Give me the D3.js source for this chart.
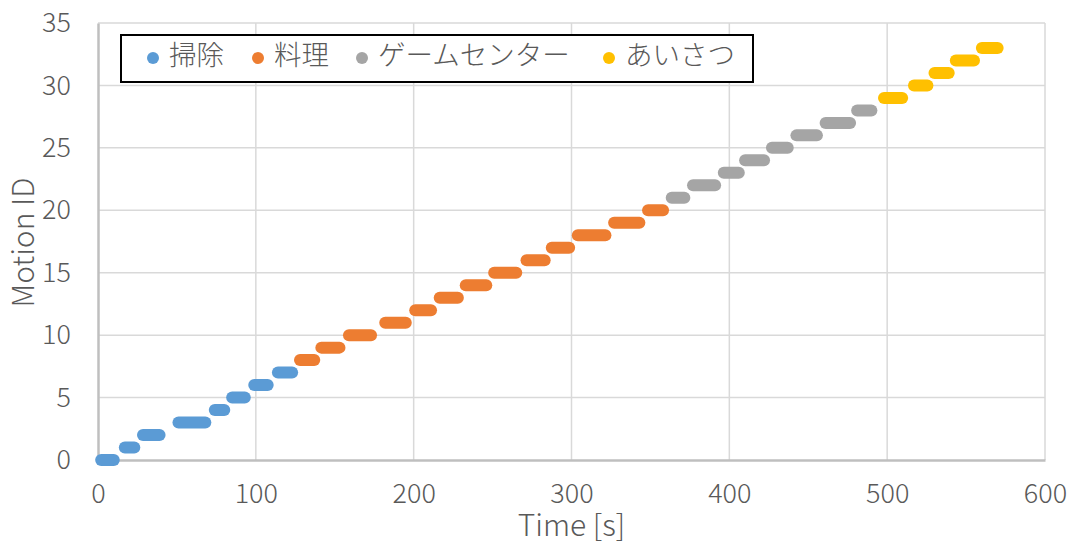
<!DOCTYPE html>
<html>
<head>
<meta charset="utf-8">
<script src="https://cdn.jsdelivr.net/npm/d3@7"></script>
<style>
  html, body { margin: 0; padding: 0; background: #fff; }
  svg { display: block; font-family: "Noto Sans CJK JP", "Noto Sans", sans-serif; }
</style>
</head>
<body>
<svg id="chart" width="1075" height="546"></svg>
<script>
// Series (activity categories) and their colours
const seriesNames = ["掃除", "料理", "ゲームセンター", "あいさつ"];
const seriesColors = ["#5B9BD5", "#ED7D31", "#A5A5A5", "#FFC000"];

// Motion IDs belonging to each series
const cleaningIds = [0, 1, 2, 3, 4, 5, 6, 7];
const cookingIds = [8, 9, 10, 11, 12, 13, 14, 15, 16, 17, 18, 19, 20];
const arcadeIds = [21, 22, 23, 24, 25, 26, 27, 28];
const greetingIds = [29, 30, 31, 32, 33];

// Start / end time [s] of each motion, in the same order as the IDs
const cleaningStart = [2, 17, 28.5, 51, 74, 85, 99, 114];
const cleaningEnd   = [10, 23, 39, 68, 80, 93, 107.5, 123];
const cookingStart  = [128, 141.5, 159, 182, 201, 216.5, 233, 251, 271.5, 287.5, 304, 327, 348.5];
const cookingEnd    = [137, 153, 173, 195, 211, 228, 246, 265, 283, 298.5, 321.5, 343, 358];
const arcadeStart   = [363.5, 377, 396.5, 410, 427, 442.5, 461, 481];
const arcadeEnd     = [371.5, 391, 406, 422, 437, 455.5, 476.5, 490];
const greetingStart = [498, 517, 530, 543.5, 560];
const greetingEnd   = [509.5, 525.5, 539, 555, 570];

// Axis ticks
const xTicks = [0, 100, 200, 300, 400, 500, 600];
const yTicks = [0, 5, 10, 15, 20, 25, 30, 35];

const seriesIds = [cleaningIds, cookingIds, arcadeIds, greetingIds];
const seriesStart = [cleaningStart, cookingStart, arcadeStart, greetingStart];
const seriesEnd = [cleaningEnd, cookingEnd, arcadeEnd, greetingEnd];

const segments = [];
seriesIds.forEach((ids, s) => {
  ids.forEach((id, i) => {
    segments.push({ series: s, id: id, t0: seriesStart[s][i], t1: seriesEnd[s][i] });
  });
});

const W = 1075, H = 546;
const margin = { left: 98, right: 30, top: 23, bottom: 86 };
const svg = d3.select("#chart");

const x = d3.scaleLinear().domain([0, 600]).range([margin.left, W - margin.right]);
const y = d3.scaleLinear().domain([0, 35]).range([H - margin.bottom, margin.top]);

const textColor = "#595959";
const tickFont = 27;
const titleFont = 30;
const legendFont = 27.5;

// Gridlines
const grid = svg.append("g");
grid.selectAll("line.h").data(yTicks.filter(d => d > 0)).join("line")
  .attr("x1", x(0)).attr("x2", x(600))
  .attr("y1", d => y(d)).attr("y2", d => y(d))
  .attr("stroke", "#d9d9d9").attr("stroke-width", 1.5);
grid.selectAll("line.v").data(xTicks.filter(d => d > 0)).join("line")
  .attr("y1", y(0)).attr("y2", y(35))
  .attr("x1", d => x(d)).attr("x2", d => x(d))
  .attr("stroke", "#d9d9d9").attr("stroke-width", 1.5);

// Axes
const xAxis = svg.append("g").attr("transform", `translate(0,${y(0)})`)
  .call(d3.axisBottom(x).tickValues(xTicks).tickSize(0).tickPadding(24));
const yAxis = svg.append("g").attr("transform", `translate(${x(0)},0)`)
  .call(d3.axisLeft(y).tickValues(yTicks).tickSize(0).tickPadding(27));
[xAxis, yAxis].forEach(g => {
  g.select(".domain").attr("stroke", "#bfbfbf").attr("stroke-width", 2.5);
  g.selectAll("text").attr("fill", textColor).attr("font-size", tickFont)
    .attr("font-family", "'Noto Sans CJK JP', sans-serif").attr("font-weight", 300);
});

// Motion segments: each motion drawn as a run of markers from start to end time
svg.append("g").selectAll("line").data(segments).join("line")
  .attr("x1", d => x(d.t0)).attr("x2", d => x(d.t1))
  .attr("y1", d => y(d.id)).attr("y2", d => y(d.id))
  .attr("stroke", d => seriesColors[d.series])
  .attr("stroke-width", 12)
  .attr("stroke-linecap", "round");

// Axis titles
svg.append("text")
  .attr("x", (x(0) + x(600)) / 2).attr("y", 536)
  .attr("text-anchor", "middle").attr("fill", textColor)
  .attr("font-size", titleFont).attr("font-weight", 300)
  .text("Time [s]");
svg.append("text")
  .attr("transform", `translate(34,${(y(0) + y(35)) / 2 + 1}) rotate(-90)`)
  .attr("text-anchor", "middle").attr("fill", textColor)
  .attr("font-size", titleFont).attr("font-weight", 300)
  .text("Motion ID");

// Legend
const legend = svg.append("g");
legend.append("rect")
  .attr("x", 121).attr("y", 35).attr("width", 632).attr("height", 47)
  .attr("fill", "#fff").attr("stroke", "#000").attr("stroke-width", 2);
const legendDotX = [153, 258, 362, 609];
const items = legend.selectAll("g.item").data(seriesNames).join("g")
  .attr("transform", (d, i) => `translate(${legendDotX[i]},58)`);
items.append("circle").attr("r", 6).attr("fill", (d, i) => seriesColors[i]);
items.append("text")
  .attr("x", 16).attr("y", 7)
  .attr("fill", textColor).attr("font-size", legendFont).attr("font-weight", 300)
  .text(d => d);
</script>
</body>
</html>
